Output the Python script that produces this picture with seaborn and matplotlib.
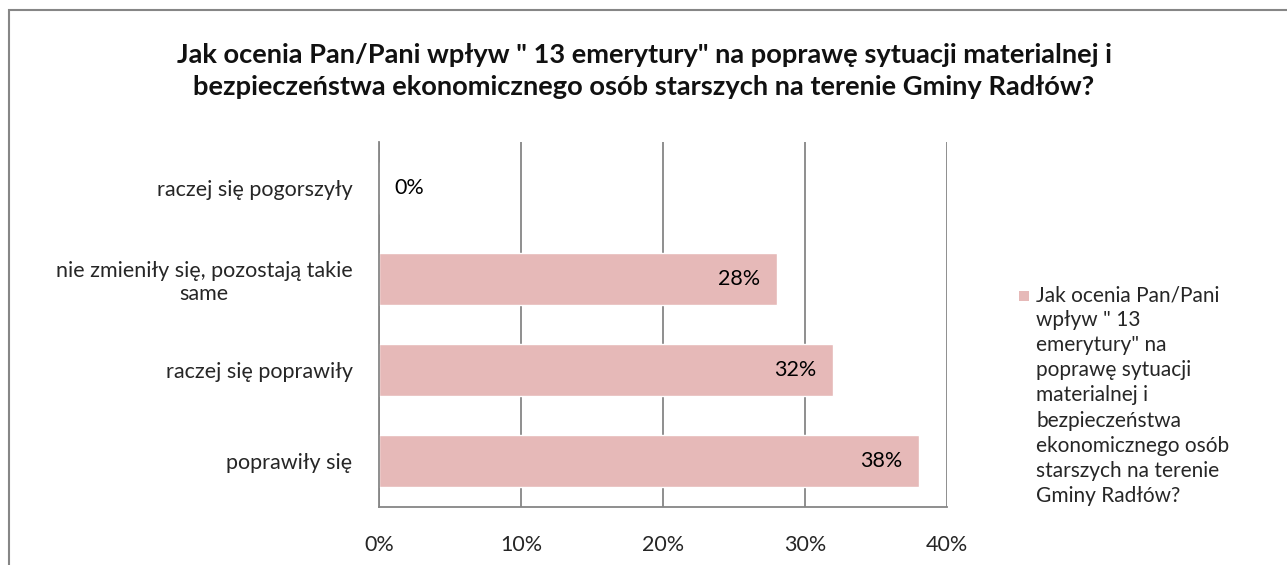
import matplotlib
matplotlib.use("Agg")
import matplotlib.pyplot as plt
from matplotlib.patches import Rectangle
import seaborn as sns
import pandas as pd

# Survey answers and their shares (%)
categories = [
    "raczej się pogorszyły",
    "nie zmieniły się, pozostają takie\nsame",
    "raczej się poprawiły",
    "poprawiły się",
]
values = [0, 28, 32, 38]
x_ticks = [0, 10, 20, 30, 40]
x_tick_labels = ["0%", "10%", "20%", "30%", "40%"]

title = ('Jak ocenia Pan/Pani wpływ " 13 emerytury" na poprawę sytuacji materialnej i\n'
         'bezpieczeństwa ekonomicznego osób starszych na terenie Gminy Radłów?')
legend_label = ('Jak ocenia Pan/Pani\nwpływ " 13\nemerytury" na\npoprawę sytuacji\n'
                'materialnej i\nbezpieczeństwa\nekonomicznego osób\nstarszych na terenie\nGminy Radłów?')

BAR = "#E6B9B8"
GRID = "#868686"
FONT = ["Lato", "DejaVu Sans"]

sns.set_style("white")
plt.rcParams["font.family"] = FONT

df = pd.DataFrame({"kategoria": categories, "procent": values})

W, H = 1287, 565
fig = plt.figure(figsize=(W / 100, H / 100), dpi=100)
ax = fig.add_axes([379 / W, 1 - 507 / H, 568 / W, 365 / H])

sns.barplot(data=df, x="procent", y="kategoria", orient="h", color=BAR,
            saturation=1, width=0.57, ax=ax, zorder=3)

ax.set_xlim(0, 40)
ax.set_ylim(3.5, -0.5)
ax.set_xticks(x_ticks)
ax.set_xticklabels(x_tick_labels, fontsize=15.5)
ax.tick_params(axis="x", length=0, pad=20)
ax.tick_params(axis="y", length=0, pad=19, labelsize=15.5)
for lbl in ax.get_yticklabels():
    lbl.set_multialignment("center")
ax.set_xlabel("")
ax.set_ylabel("")

ax.grid(axis="x", color=GRID, linewidth=1.3, zorder=0)
ax.grid(axis="y", visible=False)
for side in ("top", "right"):
    ax.spines[side].set_visible(False)
for side in ("left", "bottom"):
    ax.spines[side].set_color(GRID)
    ax.spines[side].set_linewidth(1.3)
    ax.spines[side].set_zorder(5)

# Value labels at the inside end of each bar
for i, v in enumerate(values):
    if v == 0:
        ax.annotate(f"{v}%", xy=(v, i), xytext=(11, 0), textcoords="offset points",
                    ha="left", va="center", fontsize=15.5, color="black")
    else:
        ax.annotate(f"{v}%", xy=(v, i), xytext=(-12, 0), textcoords="offset points",
                    ha="right", va="center", fontsize=15.5, color="black")

fig.text(644 / W, 1 - 71 / H, title, ha="center", va="center", fontsize=19.6,
         fontweight="bold", linespacing=1.42, color="#111111")

# Legend
fig.patches.append(Rectangle((1019 / W, 1 - 301 / H), 10 / W, 10 / H,
                             transform=fig.transFigure, facecolor=BAR, edgecolor="none"))
fig.text(1036 / W, 1 - 285 / H, legend_label, ha="left", va="top", fontsize=15,
         linespacing=1.32)

# Chart area border
fig.patches.append(Rectangle((9 / W, -0.2), 1.2, 1 - 10 / H + 0.2,
                             transform=fig.transFigure, facecolor="none",
                             edgecolor=GRID, linewidth=1.5))

fig.savefig("out.png", dpi=100)
